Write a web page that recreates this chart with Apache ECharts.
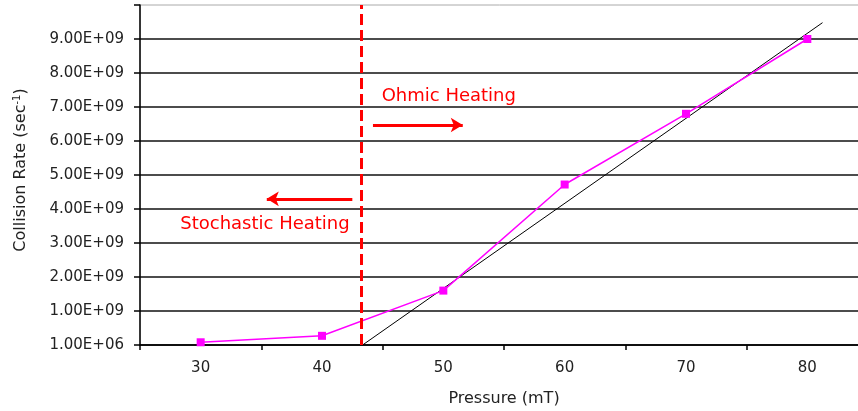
<!DOCTYPE html>
<html>
<head>
<meta charset="utf-8">
<script src="https://cdn.jsdelivr.net/npm/echarts@6/dist/echarts.min.js"></script>
<style>
html,body{margin:0;padding:0;background:#fff;}
#chart{width:858px;height:411px;}
</style>
</head>
<body>
<div id="chart"></div>
<script>
// ---- data ----
const pressure = [30, 40, 50, 60, 70, 80];
const collisionRate = [8e7, 2.7e8, 1.6e9, 4.72e9, 6.8e9, 9.0e9];
const trendX = [43.35, 81.25];
const trendY = [1e6, 9.48e9];
const transitionPressure = 43.25;
const xTickLabels = ['30', '40', '50', '60', '70', '80'];
const yTickLabels = ['1.00E+06', '1.00E+09', '2.00E+09', '3.00E+09', '4.00E+09', '5.00E+09',
                     '6.00E+09', '7.00E+09', '8.00E+09', '9.00E+09', ''];
// annotations (data units)
const ohmicText = { label: 'Ohmic Heating', x: 50.45, y: 7.32e9 };
const ohmicArrow = { x0: 44.2, x1: 51.6, y: 6.47e9 };
const stochText = { label: 'Stochastic Heating', x: 35.3, y: 3.56e9 };
const stochArrow = { x0: 42.5, x1: 35.45, y: 4.3e9 };

const FONT = 'DejaVu Sans';
const chart = echarts.init(document.getElementById('chart'), null, { renderer: 'canvas' });

const option = {
  animation: false,
  backgroundColor: '#fff',
  grid: { left: 140, right: -10, top: 5, bottom: 66, outerBoundsMode: 'none', containLabel: false,
          show: true, borderColor: '#aaaaaa', borderWidth: 1, backgroundColor: 'transparent' },
  xAxis: [
    {
      type: 'value', min: 25, max: 85, interval: 5, position: 'bottom',
      name: 'Pressure (mT)', nameLocation: 'middle', nameGap: 46,
      nameTextStyle: { fontFamily: FONT, fontSize: 16, color: '#222' },
      axisLine: { show: true, lineStyle: { color: '#000', width: 1.5 } },
      axisTick: { show: false },
      splitLine: { show: false },
      axisLabel: {
        fontFamily: FONT, fontSize: 15, color: '#222', margin: 16,
        formatter: function (v) {
          if (v % 10 !== 0) return '';
          const i = (v - 30) / 10;
          return (i >= 0 && i < xTickLabels.length) ? xTickLabels[i] : '';
        }
      }
    },
    {
      type: 'value', min: 25, max: 85, interval: 10, position: 'bottom',
      axisLine: { show: false },
      axisTick: { show: true, inside: false, length: 5, lineStyle: { color: '#000', width: 1.5 } },
      axisLabel: { show: false },
      splitLine: { show: false }
    }
  ],
  yAxis: {
    type: 'value', min: 0, max: 1e10, interval: 1e9,
    name: 'Collision Rate (sec{sup|-1})', nameLocation: 'middle', nameGap: 110, nameRotate: 90,
    nameTextStyle: {
      fontFamily: FONT, fontSize: 16, color: '#222', padding: [0, 0, 0, 10],
      rich: { sup: { fontFamily: FONT, fontSize: 10, color: '#222', verticalAlign: 'top', padding: [0, 0, 8, 0] } }
    },
    axisLine: { show: true, lineStyle: { color: '#000', width: 1.5 } },
    axisTick: { show: true, length: 6, lineStyle: { color: '#000', width: 1.5 } },
    splitLine: { show: true, showMaxLine: false, lineStyle: { color: '#111', width: 1.5 } },
    axisLabel: {
      fontFamily: FONT, fontSize: 15, color: '#222', margin: 16,
      formatter: function (v, i) { return yTickLabels[i] || ''; }
    }
  },
  series: [
    {
      type: 'line', name: 'trend', xAxisIndex: 0,
      data: trendX.map((x, i) => [x, trendY[i]]),
      symbol: 'none', lineStyle: { color: '#000', width: 1 }, silent: true, z: 2,
      markLine: {
        silent: true, animation: false, symbol: ['none', 'none'],
        label: { show: false },
        data: [
          { xAxis: transitionPressure, lineStyle: { color: '#ff0000', width: 3, type: [11, 5] } },
          [
            { coord: [ohmicArrow.x0, ohmicArrow.y], symbol: 'none', lineStyle: { color: '#ff0000', width: 3, type: 'solid' } },
            { coord: [ohmicArrow.x1, ohmicArrow.y], symbol: 'arrow', symbolSize: [11, 12] }
          ],
          [
            { coord: [stochArrow.x0, stochArrow.y], symbol: 'none', lineStyle: { color: '#ff0000', width: 3, type: 'solid' } },
            { coord: [stochArrow.x1, stochArrow.y], symbol: 'arrow', symbolSize: [11, 12] }
          ]
        ]
      },
      markPoint: {
        silent: true, symbol: 'rect', symbolSize: 1, itemStyle: { color: 'rgba(0,0,0,0)' },
        label: { show: true, position: 'inside', fontFamily: FONT, fontSize: 18, color: '#ff0000' },
        data: [
          { coord: [ohmicText.x, ohmicText.y], value: ohmicText.label, label: { formatter: ohmicText.label } },
          { coord: [stochText.x, stochText.y], value: stochText.label, label: { formatter: stochText.label } }
        ]
      }
    },
    {
      type: 'line', name: 'Collision Rate', xAxisIndex: 0,
      data: pressure.map((p, i) => [p, collisionRate[i]]),
      symbol: 'rect', symbolSize: 8,
      itemStyle: { color: '#ff00ff' },
      lineStyle: { color: '#ff00ff', width: 1.5 }, z: 3
    }
  ]
};
chart.setOption(option);
</script>
</body>
</html>
